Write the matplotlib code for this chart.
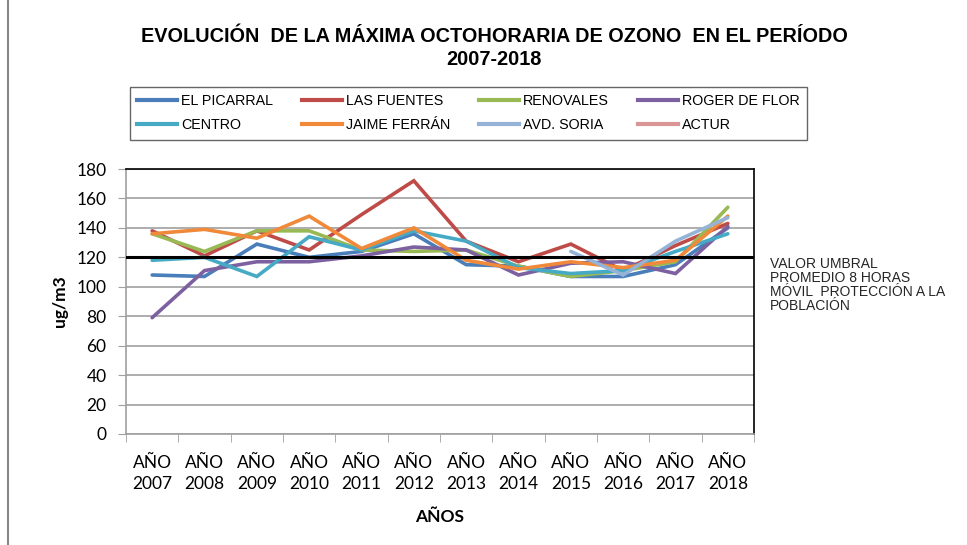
import numpy as np
import matplotlib
matplotlib.use("Agg")
import matplotlib.pyplot as plt
from matplotlib.lines import Line2D

nan = np.nan
years = ["AÑO\n2007", "AÑO\n2008", "AÑO\n2009", "AÑO\n2010", "AÑO\n2011", "AÑO\n2012",
         "AÑO\n2013", "AÑO\n2014", "AÑO\n2015", "AÑO\n2016", "AÑO\n2017", "AÑO\n2018"]

el_picarral   = [108, 107, 129, 120, 124, 136, 115, 114, 107, 107, 115, 140]
las_fuentes   = [138, 121, 138, 125, 149, 172, 131, 117, 129, 111, 128, 143]
renovales     = [136, 124, 138, 138, 125, 124, 125, 114, 107, 111, 117, 154]
roger_de_flor = [79, 111, 117, 117, 121, 127, 125, 108, 116, 117, 109, 141]
centro        = [118, 120, 107, 134, 125, 138, 131, 113, 109, 111, 124, 136]
jaime_ferran  = [136, 139, 133, 148, 126, 140, 118, 112, 117, 113, 118, 148]
avd_soria     = [nan, nan, nan, nan, nan, nan, nan, nan, 124, 108, 131, 147]
actur         = [nan, nan, nan, nan, nan, nan, nan, nan, nan, nan, nan, 148]

series_names = ["EL PICARRAL", "LAS FUENTES", "RENOVALES", "ROGER DE FLOR",
                "CENTRO", "JAIME FERRÁN", "AVD. SORIA", "ACTUR"]
series_values = [el_picarral, las_fuentes, renovales, roger_de_flor,
                 centro, jaime_ferran, avd_soria, actur]
colors = ["#4A7EBB", "#BE4B48", "#98B954", "#7D60A0",
          "#46AAC5", "#F08A3A", "#95B3D7", "#D99694"]

threshold = 120
yticks = [0, 20, 40, 60, 80, 100, 120, 140, 160, 180]

W, H = 967, 545
fig = plt.figure(figsize=(W / 100, H / 100), dpi=100)
ax = fig.add_axes([126 / W, 1 - 434 / H, (754 - 126) / W, (434 - 169) / H])

x = np.arange(len(years))
for name, vals, c in zip(series_names, series_values, colors):
    ax.plot(x, vals, color=c, lw=2.6, solid_capstyle="round", solid_joinstyle="miter", zorder=3)

ax.axhline(threshold, color="black", lw=2.2, zorder=4)

ax.set_xlim(-0.5, len(years) - 0.5)
ax.set_ylim(0, 180)
ax.set_yticks(yticks)
ax.set_yticklabels([str(v) for v in yticks], fontfamily="Lato", fontsize=12.5)
ax.yaxis.grid(True, color="#A0A0A0", lw=1.2)
ax.set_axisbelow(True)

ax.set_xticks(x)
ax.set_xticklabels(years, fontfamily="Lato", fontsize=12.5, linespacing=1.4)
ax.set_xticks(np.arange(-0.5, len(years), 1), minor=True)
ax.tick_params(axis="x", which="major", length=0, pad=15)
ax.tick_params(axis="x", which="minor", length=6, color="#A0A0A0", direction="out")
ax.tick_params(axis="y", length=6, color="#A0A0A0", direction="out", pad=8)

for s in ["left", "bottom"]:
    ax.spines[s].set_color("#A0A0A0")
    ax.spines[s].set_linewidth(1.2)
for s in ["top", "right"]:
    ax.spines[s].set_color("black")
    ax.spines[s].set_linewidth(1.2)

ax.set_ylabel("ug/m3", fontfamily="Lato", fontweight="bold", fontsize=12.5, labelpad=6)
ax.set_xlabel("AÑOS", fontfamily="Lato", fontweight="bold", fontsize=12.5, labelpad=12)

fig.text(494 / W, 1 - 36 / H, "EVOLUCIÓN  DE LA MÁXIMA OCTOHORARIA DE OZONO  EN EL PERÍODO",
         ha="center", va="center", fontfamily="Liberation Sans", fontweight="bold", fontsize=14.3)
fig.text(494 / W, 1 - 59 / H, "2007-2018",
         ha="center", va="center", fontfamily="Liberation Sans", fontweight="bold", fontsize=14.3)

fig.text(770 / W, 1 - 285 / H,
         "VALOR UMBRAL\nPROMEDIO 8 HORAS\nMÓVIL  PROTECCIÓN A LA\nPOBLACIÓN",
         ha="left", va="center", fontfamily="Liberation Sans", fontsize=10,
         color="#262626", linespacing=0.98)

# legend filled row by row (matplotlib fills column-first)
order = [0, 4, 1, 5, 2, 6, 3, 7]
handles = [Line2D([], [], color=colors[i], lw=3) for i in order]
labels = [series_names[i] for i in order]
leg = fig.legend(handles, labels, loc="upper left",
                 bbox_to_anchor=(130 / W, 1 - 87 / H), ncol=4,
                 prop={"family": "Liberation Sans", "size": 10.3},
                 frameon=True, fancybox=False, edgecolor="#404040",
                 handlelength=2.8, handletextpad=0.25, columnspacing=2.05,
                 borderpad=0.5, labelspacing=0.72, borderaxespad=0)
leg.get_frame().set_linewidth(1.0)

fig.add_artist(Line2D([8 / W, 8 / W], [0, 1], color="#888888", lw=1.5,
                      transform=fig.transFigure))

fig.savefig("out.png", dpi=100)
